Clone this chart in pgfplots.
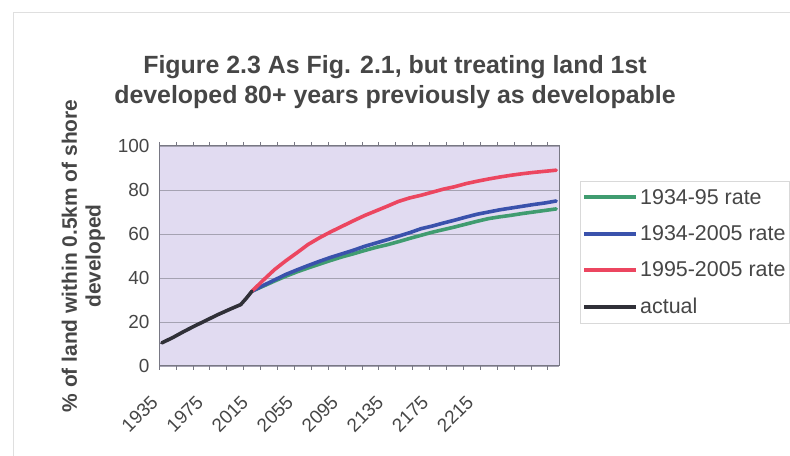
\documentclass[border=0pt]{standalone}
\usepackage{fontspec}
\setmainfont{Liberation Sans}
\usepackage{pgfplots}
\pgfplotsset{compat=1.18}

\definecolor{cGreen}{RGB}{64,156,112}
\definecolor{cBlue}{RGB}{58,82,172}
\definecolor{cRed}{RGB}{236,70,96}
\definecolor{cBlack}{RGB}{48,48,56}
\definecolor{plotbg}{RGB}{225,219,241}
\definecolor{gridc}{RGB}{165,162,178}
\definecolor{axc}{RGB}{120,120,132}
\definecolor{txt}{RGB}{70,70,70}

\begin{document}
\begin{tikzpicture}[x=1bp,y=1bp]
\path[use as bounding box] (0,0) rectangle (790,456);
% faint page frame of the scan
\draw[gray!25, line width=1bp] (13,0) -- (13,443) -- (790,443);
\node[align=center, font=\fontsize{25}{30}\selectfont\bfseries, text=txt]
  at (395,374) {Figure 2.3 As Fig. 2.1, but treating land 1st\\developed 80+ years previously as developable};
\begin{axis}[
  at={(159bp,90bp)}, anchor=south west,
  width=400bp, height=220bp, scale only axis,
  xmin=1932.5, xmax=2287.5,
  ymin=0, ymax=100,
  xtick={1935,1975,...,2215},
  minor xtick={1932.5,1947.5,...,2287.5},
  ytick={0,20,...,100},
  xtick style={axc, line width=0.6bp},
  major tick length=0bp,
  minor tick length=4bp,
  tick align=outside,
  ytick style={draw=none},
  ymajorgrids, grid style={gridc, line width=0.8bp},
  axis background/.style={fill=plotbg},
  axis line style={axc, line width=1bp},
  /pgf/number format/assume math mode=true,
  /pgf/number format/1000 sep={},
  ticklabel style={font=\fontsize{19}{22}\selectfont, text=txt},
  yticklabel style={xshift=-6bp},
  xticklabel style={rotate=45, anchor=north east, xshift=-25bp, yshift=-8bp},
  ylabel={\% of land within 0.5km of shore\\developed},
  ylabel style={align=center, font=\fontsize{21}{24}\selectfont\bfseries, text=txt, yshift=6bp},
  legend style={at={(1.0525,0.841)}, anchor=north west, draw=gray!30, fill=white,
    font=\fontsize{21.5}{23}\selectfont, text=txt, row sep=16bp, inner xsep=2bp, inner ysep=6bp},
  legend cell align=left,
  legend image code/.code={\draw[#1, line width=4bp, line cap=butt] (0bp,0bp) -- (52bp,0bp);},
  every axis plot/.append style={line width=3.6bp, line join=round, line cap=round},
]
\addplot[cGreen] coordinates {
 (2015,34) (2025,36.3) (2035,38.6) (2045,40.8) (2055,42.8) (2065,44.6) (2075,46.3)
 (2085,48.0) (2095,49.6) (2105,51.0) (2115,52.5) (2125,53.9) (2135,55.1) (2145,56.5)
 (2155,58.0) (2165,59.4) (2175,60.8) (2185,62.0) (2195,63.2) (2205,64.5) (2215,65.8)
 (2225,67.0) (2235,67.8) (2245,68.5) (2255,69.3) (2265,70.0) (2275,70.7) (2285,71.4)};
\addplot[cBlue] coordinates {
 (2015,34) (2025,36.6) (2035,39.1) (2045,41.6) (2055,43.7) (2065,45.7) (2075,47.6)
 (2085,49.4) (2095,51.0) (2105,52.6) (2115,54.4) (2125,55.9) (2135,57.4) (2145,59.0)
 (2155,60.6) (2165,62.4) (2175,63.6) (2185,65.0) (2195,66.3) (2205,67.7) (2215,69.0)
 (2225,70.0) (2235,71.0) (2245,71.8) (2255,72.6) (2265,73.4) (2275,74.1) (2285,75.0)};
\addplot[cRed] coordinates {
 (2015,34) (2025,39.0) (2035,43.8) (2045,47.8) (2055,51.5) (2065,55.3) (2075,58.3)
 (2085,61.0) (2095,63.5) (2105,66.0) (2115,68.4) (2125,70.5) (2135,72.6) (2145,74.8)
 (2155,76.4) (2165,77.6) (2175,79.0) (2185,80.4) (2195,81.5) (2205,82.9) (2215,84.0)
 (2225,85.0) (2235,85.9) (2245,86.7) (2255,87.4) (2265,88.0) (2275,88.5) (2285,89.0)};
\addplot[cBlack] coordinates {
 (1935,10.5) (1945,13.0) (1955,15.8) (1965,18.4) (1975,20.9) (1985,23.4)
 (1995,25.7) (2005,27.9) (2010,30.8) (2015,34.0)};
\legend{1934-95 rate, 1934-2005 rate, 1995-2005 rate, actual}
\end{axis}
\end{tikzpicture}
\end{document}
